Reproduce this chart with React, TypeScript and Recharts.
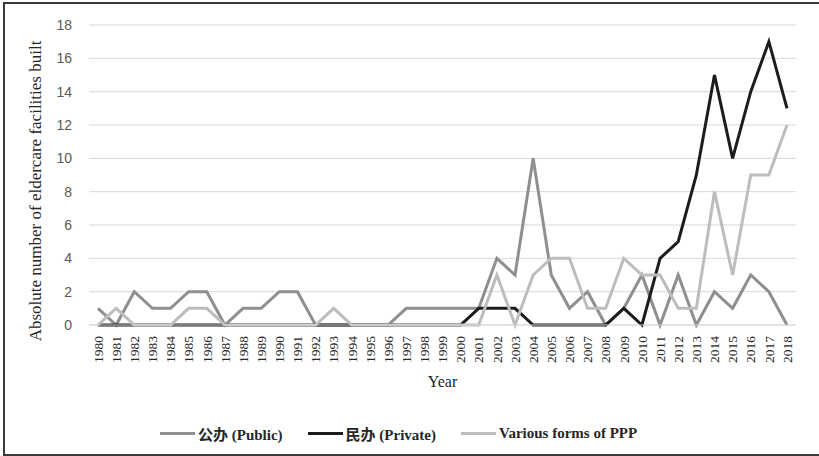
import { LineChart, Line, XAxis, YAxis, CartesianGrid, Label } from 'recharts'

const years = [
  '1980', '1981', '1982', '1983', '1984', '1985', '1986', '1987', '1988', '1989',
  '1990', '1991', '1992', '1993', '1994', '1995', '1996', '1997', '1998', '1999',
  '2000', '2001', '2002', '2003', '2004', '2005', '2006', '2007', '2008', '2009',
  '2010', '2011', '2012', '2013', '2014', '2015', '2016', '2017', '2018',
]

const publicBuilt = [
  1, 0, 2, 1, 1, 2, 2, 0, 1, 1,
  2, 2, 0, 0, 0, 0, 0, 1, 1, 1,
  1, 1, 4, 3, 10, 3, 1, 2, 0, 1,
  3, 0, 3, 0, 2, 1, 3, 2, 0,
]

const privateBuilt = [
  0, 0, 0, 0, 0, 0, 0, 0, 0, 0,
  0, 0, 0, 0, 0, 0, 0, 0, 0, 0,
  0, 1, 1, 1, 0, 0, 0, 0, 0, 1,
  0, 4, 5, 9, 15, 10, 14, 17, 13,
]

const pppBuilt = [
  0, 1, 0, 0, 0, 1, 1, 0, 0, 0,
  0, 0, 0, 1, 0, 0, 0, 0, 0, 0,
  0, 0, 3, 0, 3, 4, 4, 1, 1, 4,
  3, 3, 1, 1, 8, 3, 9, 9, 12,
]

const yTicks = [0, 2, 4, 6, 8, 10, 12, 14, 16, 18]

const series = [
  { key: 'public', name: '公办 (Public)', color: '#8f8f8f' },
  { key: 'private', name: '民办 (Private)', color: '#1c1c1c' },
  { key: 'ppp', name: 'Various forms of PPP', color: '#bdbdbd' },
]

const data = years.map((year, i) => ({
  year,
  public: publicBuilt[i],
  private: privateBuilt[i],
  ppp: pppBuilt[i],
}))

const serif = '"Liberation Serif", "Times New Roman", serif'

function YearTick({ x, y, payload }: any) {
  return (
    <text
      x={x}
      y={y}
      dy="0.35em"
      transform={`rotate(-90, ${x}, ${y})`}
      textAnchor="end"
      fontFamily={serif}
      fontSize={13.5}
      fill="#262626"
    >
      {payload.value}
    </text>
  )
}

export default function App() {
  return (
    <div style={{ position: 'fixed', left: 0, top: 0, width: 819, height: 456, overflow: 'hidden', background: '#fff' }}>
      <div
        style={{
          position: 'absolute',
          left: 3,
          top: 2,
          width: 840,
          height: 450,
          borderLeft: '2px solid #3a3a3a',
          borderTop: '2px solid #3a3a3a',
          borderBottom: '2px solid #3a3a3a',
        }}
      />
      <LineChart
        width={819}
        height={456}
        data={data}
        margin={{ top: 25, right: 23, bottom: 61, left: 29 }}
        style={{ position: 'absolute', left: 0, top: 0 }}
      >
        <CartesianGrid vertical={false} stroke="#d9d9d9" strokeWidth={1} />
        <XAxis
          dataKey="year"
          interval={0}
          height={70}
          padding={{ left: 9, right: 9 }}
          tickLine={false}
          axisLine={{ stroke: '#d9d9d9' }}
          tick={<YearTick />}
          tickMargin={5}
        >
          <Label
            content={({ viewBox }: any) => (
              <text
                x={viewBox.x + viewBox.width / 2}
                y={viewBox.y + 62}
                textAnchor="middle"
                fontFamily={serif}
                fontSize={16}
                fill="#262626"
              >
                Year
              </text>
            )}
          />
        </XAxis>
        <YAxis
          width={60}
          domain={[0, 18]}
          ticks={yTicks}
          axisLine={false}
          tickLine={false}
          tickMargin={11}
          tick={{ fontFamily: '"Liberation Sans", Arial, sans-serif', fontSize: 14, fill: '#595959' }}
        >
          <Label
            content={({ viewBox }: any) => {
              const cx = 41
              const cy = viewBox.y + viewBox.height / 2 + 16
              return (
                <text
                  x={cx}
                  y={cy}
                  transform={`rotate(-90, ${cx}, ${cy})`}
                  textAnchor="middle"
                  fontFamily={serif}
                  fontSize={17}
                  fill="#262626"
                >
                  Absolute number of eldercare facilities built
                </text>
              )
            }}
          />
        </YAxis>
        {series.map((s) => (
          <Line
            key={s.key}
            type="linear"
            dataKey={s.key}
            name={s.name}
            stroke={s.color}
            strokeWidth={3}
            dot={false}
            activeDot={false}
            isAnimationActive={false}
          />
        ))}
      </LineChart>
      <div
        style={{
          position: 'absolute',
          left: 160,
          top: 423,
          display: 'flex',
          alignItems: 'center',
          fontFamily: `${serif}, "Noto Sans CJK SC"`,
          fontWeight: 'bold',
          fontSize: 15,
          color: '#262626',
        }}
      >
        {series.map((s) => (
          <div key={s.key} style={{ display: 'flex', alignItems: 'center', marginRight: 25 }}>
            <span style={{ display: 'inline-block', width: 35, height: 3, background: s.color, marginRight: 3 }} />
            <span>{s.name}</span>
          </div>
        ))}
      </div>
    </div>
  )
}
